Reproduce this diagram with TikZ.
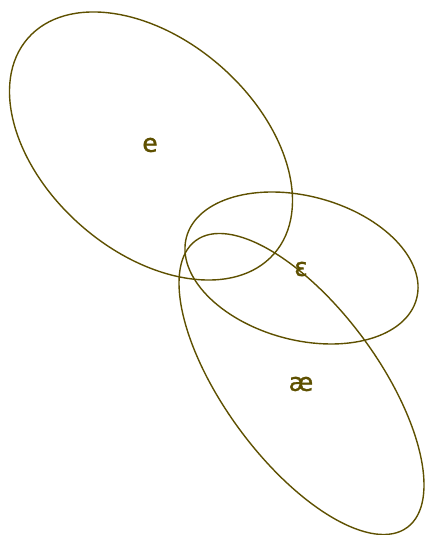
\documentclass[tikz,border=0pt]{standalone}
\usepackage{fontspec}
\setmainfont{DejaVu Sans}
\newfontfamily\lblfont[FakeBold=1.2]{DejaVu Sans}
\definecolor{olv}{RGB}{94,80,0}
\begin{document}
\begin{tikzpicture}[x=1pt,y=1pt,
  blob/.style={draw=olv,line width=1.4pt},
  lbl/.style={text=olv,font=\lblfont\fontsize{25}{30}\selectfont,inner sep=0pt}]
\useasboundingbox (0,0) rectangle (426,535);
% ellipse for e : image centre (151,146)
\draw[blob,rotate around={-41.2:(151,389)}] (151,389) ellipse [x radius=163.6pt, y radius=105.9pt];
% ellipse for epsilon : image centre (301.5,268)
\draw[blob,rotate around={-15:(301.5,267)}] (301.5,267) ellipse [x radius=119.1pt, y radius=71.9pt];
% ellipse for ae : image centre (301.5,384)
\draw[blob,rotate around={-53.6:(301.5,151)}] (301.5,151) ellipse [x radius=178.2pt, y radius=76.8pt];
\node[lbl] (e) at (150,390) {e};
\node[lbl] (eps) at (301,266) {ɛ};
\node[lbl] (ae) at (301,151) {æ};
\end{tikzpicture}
\end{document}
